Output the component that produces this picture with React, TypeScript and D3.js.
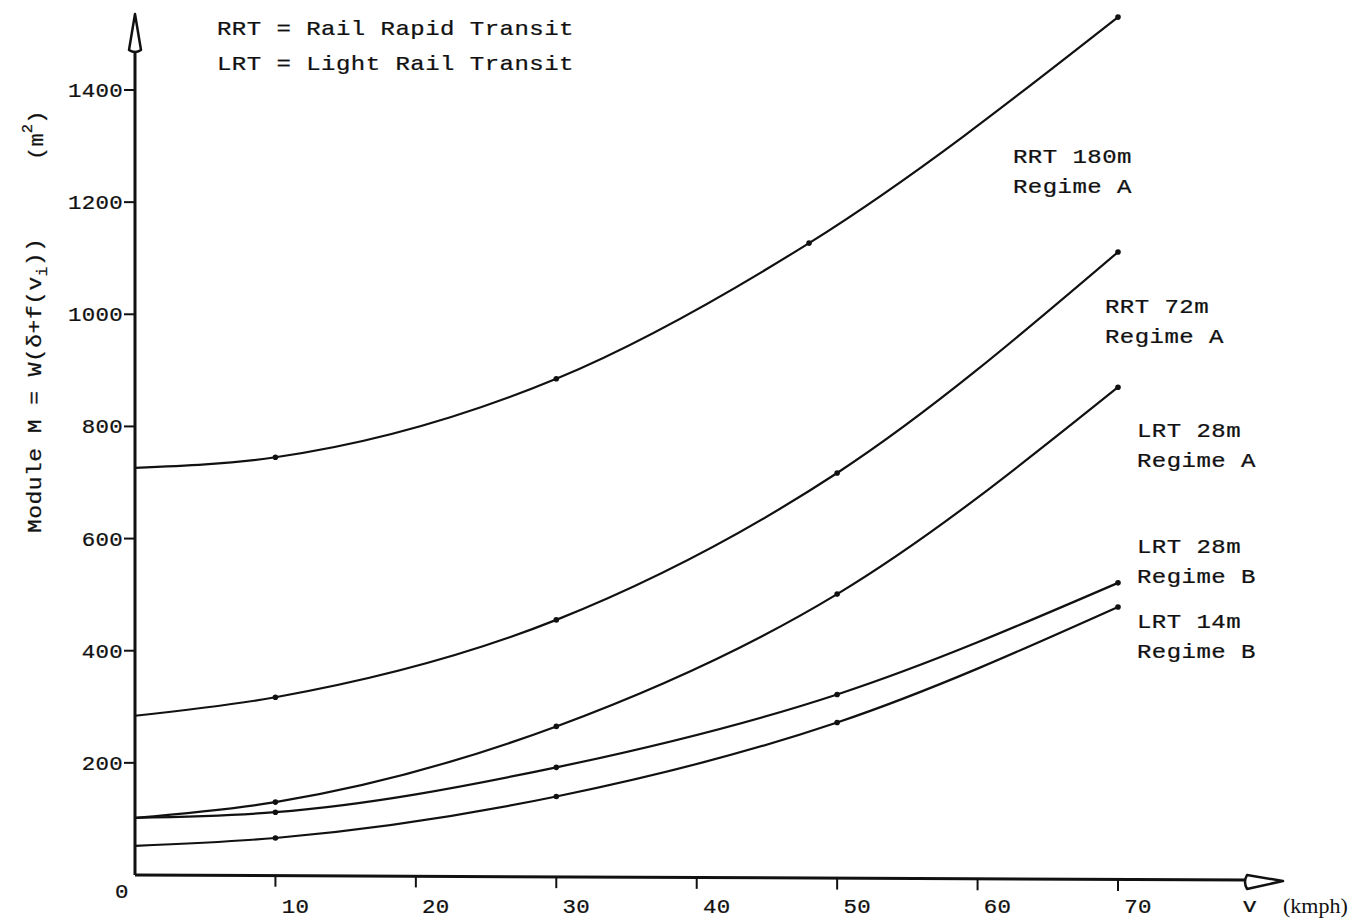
import React from 'react'
import * as d3 from 'd3'

// speed v (kmph) at the marked points
const speeds = [0, 10, 30, 50, 70]
const rrt180Speeds = [0, 10, 30, 48, 70]

// Module M (m^2)
const rrt180A = [726, 745, 885, 1127, 1530]
const rrt72A = [284, 317, 455, 717, 1111]
const lrt28A = [102, 130, 265, 501, 870]
const lrt28B = [102, 112, 192, 322, 521]
const lrt14B = [52, 66, 140, 272, 478]

const xTicks = [10, 20, 30, 40, 50, 60, 70]
const yTicks = [200, 400, 600, 800, 1000, 1200, 1400]

const legendLines = ['RRT = Rail Rapid Transit', 'LRT = Light Rail Transit']

const series = [
  { name: ['RRT 180m', 'Regime A'], xs: rrt180Speeds, ys: rrt180A, lx: 1013, ly: 163 },
  { name: ['RRT 72m', 'Regime A'], xs: speeds, ys: rrt72A, lx: 1105, ly: 313 },
  { name: ['LRT 28m', 'Regime A'], xs: speeds, ys: lrt28A, lx: 1137, ly: 437 },
  { name: ['LRT 28m', 'Regime B'], xs: speeds, ys: lrt28B, lx: 1137, ly: 553 },
  { name: ['LRT 14m', 'Regime B'], xs: speeds, ys: lrt14B, lx: 1137, ly: 628 },
]

const width = 1370
const height = 920
const mono = "'Liberation Mono', 'DejaVu Sans Mono', monospace"
const ink = '#111'

const x = d3.scaleLinear().domain([0, 70]).range([135, 1118])
const y = d3.scaleLinear().domain([0, 1400]).range([875, 90])

const curve = d3.line<[number, number]>()
  .x(d => x(d[0]))
  .y(d => y(d[1]))
  .curve(d3.curveMonotoneX)

// typewriter-ish text: mono glyphs widened a little
const TT = ({ x, y, size = 20, sx = 1.2, ls = 0.4, anchor = 'start', rotate = 0, dy, children }: any) => (
  <text transform={`translate(${x},${y}) rotate(${rotate}) scale(${sx},1)`} fontSize={size}
    letterSpacing={ls} textAnchor={anchor} dy={dy} stroke={ink} strokeWidth={0.25}>{children}</text>
)

const App = () => {
  const x0 = x(0)
  const y0 = y(0)
  return (
    <svg width={width} height={height} style={{ position: 'absolute', left: 0, top: 0, background: '#fff' }}
      fontFamily={mono} fill={ink}>
      {/* legend */}
      {legendLines.map((t, i) => (
        <TT key={t} x={217} y={35 + i * 35}>{t}</TT>
      ))}

      {/* y axis + arrow */}
      <line x1={x0} x2={x0} y1={y0} y2={52} stroke={ink} strokeWidth={3} />
      <path d={`M${x0},14 L${x0 + 6},50 Q${x0},54 ${x0 - 6},50 Z`} fill="#fff" stroke={ink} strokeWidth={2.5} strokeLinejoin="round" />
      {yTicks.map(t => (
        <g key={t}>
          <line x1={x0 - 11} x2={x0} y1={y(t)} y2={y(t)} stroke={ink} strokeWidth={2} />
          <TT x={x0 - 12} y={y(t)} dy="0.35em" anchor="end" sx={1.12} ls={0.3}>{t}</TT>
        </g>
      ))}

      {/* x axis + arrow */}
      <line x1={x0} x2={1247} y1={y0} y2={y0 + 5} stroke={ink} strokeWidth={3} />
      <path d={`M1283,${y0 + 6} L1247,${y0} Q1243,${y0 + 7} 1247,${y0 + 14} Z`} fill="#fff" stroke={ink} strokeWidth={2.5} strokeLinejoin="round" />
      {xTicks.map(t => (
        <g key={t}>
          <line x1={x(t)} x2={x(t)} y1={y0 + t / 14} y2={y0 + t / 14 + 11} stroke={ink} strokeWidth={2} />
          <TT x={x(t) + 20} y={913} anchor="middle" sx={1.12} ls={0.3}>{t}</TT>
        </g>
      ))}
      <TT x={122} y={898} anchor="middle" sx={1.12}>0</TT>
      <TT x={1250} y={912} anchor="middle">v</TT>
      <text x={1283} y={913} fontSize={22} fontFamily="'Liberation Serif', serif">(kmph)</text>

      {/* y axis title */}
      <TT x={41} y={533} rotate={-90} sx={1.15} ls={0.4}>
        Module M = W(δ+f(v<tspan fontSize={14} dy={6}>i</tspan><tspan dy={-6}>))</tspan>
      </TT>
      <TT x={43} y={160} rotate={-90} sx={1.1} ls={0.2}>
        (m<tspan fontSize={14} dy={-11}>2</tspan><tspan dy={11}>)</tspan>
      </TT>

      {/* curves */}
      {series.map(s => {
        const pts = s.xs.map((v, i) => [v, s.ys[i]] as [number, number])
        return (
          <g key={s.name.join(' ') + s.lx}>
            <path d={curve(pts) || ''} fill="none" stroke={ink} strokeWidth={2.2} />
            {pts.slice(1).map(p => (
              <circle key={p[0]} cx={x(p[0])} cy={y(p[1])} r={2.8} fill={ink} />
            ))}
            {s.name.map((t, i) => (
              <TT key={t} x={s.lx} y={s.ly + i * 30}>{t}</TT>
            ))}
          </g>
        )
      })}
    </svg>
  )
}

export default App
